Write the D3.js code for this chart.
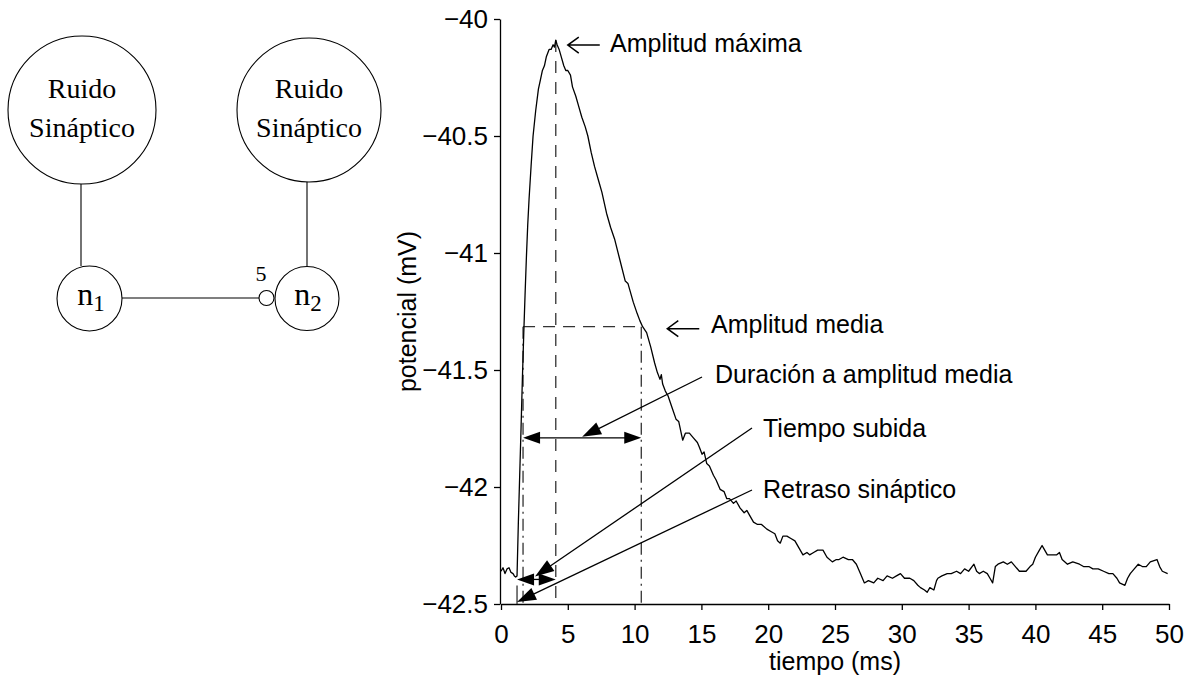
<!DOCTYPE html>
<html>
<head>
<meta charset="utf-8">
<script src="https://cdn.jsdelivr.net/npm/d3@7"></script>
<style>
  html, body { margin: 0; padding: 0; background: #fff; }
  svg { display: block; }
  .sans { font-family: "Liberation Sans", Arial, Helvetica, sans-serif; }
  .serif { font-family: "Liberation Serif", "Times New Roman", serif; }
</style>
</head>
<body>
<svg id="fig" width="1193" height="682"></svg>
<script>
// Membrane potential trace of n2 (time in ms, potential in mV)
const timeMs = [
  0, 0.15, 0.3, 0.45, 0.6, 0.75, 0.9, 1.0, 1.1, 1.2,
  1.3, 1.4, 1.5, 1.6, 1.7, 1.8, 1.9, 2.0, 2.1, 2.25, 2.4, 2.6, 2.8, 2.95, 3.1, 3.25, 3.4, 3.6, 3.75, 3.9, 4.0, 4.1,
  4.2, 4.35, 4.5, 4.7, 4.85, 5.0, 5.2, 5.35, 5.6, 5.8, 6.05, 6.3, 6.5, 6.75, 7.0, 7.3, 7.55, 7.9, 8.2, 8.5, 8.9,
  9.3, 9.5, 9.65, 9.9, 10.2, 10.4, 10.6, 10.9, 11.2, 11.5, 11.7, 11.9, 12.0, 12.1, 12.3, 12.5, 12.8, 13.1, 13.3,
  13.6, 13.8, 14.1, 14.4, 14.7, 14.85, 15.05, 15.2, 15.4, 15.6, 15.9, 16.1, 16.4, 16.7, 16.9, 17.1, 17.4, 17.6,
  17.9, 18.2, 18.4, 18.6, 18.9, 19.2, 19.5, 19.9, 20.2, 20.5, 20.7, 20.9, 21.1, 21.4, 21.7, 22.0, 22.3, 22.6,
  22.9, 23.1, 23.4, 23.7, 24.1, 24.4, 24.8, 25.1, 25.3, 25.6, 26.0, 26.3, 26.6, 26.9, 27.2, 27.5, 27.9, 28.2,
  28.6, 28.9, 29.3, 29.6, 29.9, 30.2, 30.6, 30.9, 31.2, 31.4, 31.7, 31.9, 32.1, 32.4, 32.6, 32.7, 33.0, 33.4,
  33.7, 34.1, 34.4, 34.7, 35.0, 35.4, 35.6, 35.8, 36.1, 36.4, 36.6, 36.8, 37.0, 37.2, 37.6, 37.9, 38.2, 38.5,
  38.8, 39.0, 39.3, 39.6, 39.8, 40.0, 40.3, 40.5, 40.6, 40.9, 41.2, 41.6, 41.8, 42.0, 42.4, 42.8, 43.3, 43.6,
  44.0, 44.3, 44.7, 45.1, 45.5, 45.8, 46.1, 46.3, 46.7, 46.9, 47.1, 47.4, 47.7, 48.0, 48.3, 48.6, 49.1, 49.3,
  49.5, 49.9
];
const potentialMv = [
  -42.36, -42.345, -42.37, -42.35, -42.345, -42.365, -42.37, -42.38, -42.385, -42.38,
  -42.15, -41.95, -41.75, -41.54, -41.35, -41.18, -41.02, -40.88, -40.77, -40.63, -40.5, -40.39, -40.3, -40.26, -40.22, -40.2, -40.16, -40.13, -40.13, -40.11, -40.12, -40.09,
  -40.11, -40.13, -40.16, -40.2, -40.22, -40.22, -40.24, -40.29, -40.33, -40.37, -40.42, -40.46, -40.5, -40.57, -40.63, -40.69, -40.74, -40.83, -40.89, -40.94, -41.03,
  -41.12, -41.13, -41.16, -41.21, -41.26, -41.29, -41.315, -41.34, -41.4, -41.47, -41.51, -41.54, -41.52, -41.56, -41.59, -41.61, -41.66, -41.71, -41.72,
  -41.8, -41.77, -41.77, -41.79, -41.81, -41.83, -41.86, -41.85, -41.9, -41.91, -41.95, -41.97, -42.01, -42.02, -42.05, -42.05, -42.07, -42.06,
  -42.09, -42.11, -42.1, -42.12, -42.15, -42.16, -42.16, -42.18, -42.19, -42.2, -42.23, -42.24, -42.21, -42.21, -42.22, -42.23, -42.26, -42.29,
  -42.28, -42.29, -42.28, -42.27, -42.27, -42.3, -42.32, -42.31, -42.31, -42.3, -42.31, -42.31, -42.33, -42.37, -42.41, -42.4, -42.41, -42.39,
  -42.4, -42.38, -42.39, -42.38, -42.37, -42.39, -42.39, -42.4, -42.42, -42.43, -42.44, -42.45, -42.43, -42.44, -42.4, -42.39, -42.38, -42.37,
  -42.37, -42.36, -42.37, -42.35, -42.36, -42.33, -42.36, -42.37, -42.36, -42.37, -42.39, -42.41, -42.34, -42.33, -42.32, -42.33, -42.32, -42.34,
  -42.36, -42.36, -42.36, -42.34, -42.33, -42.3, -42.27, -42.25, -42.26, -42.29, -42.29, -42.29, -42.28, -42.31, -42.33, -42.32, -42.33, -42.34,
  -42.34, -42.35, -42.35, -42.36, -42.37, -42.37, -42.39, -42.41, -42.42, -42.39, -42.37, -42.35, -42.33, -42.34, -42.34, -42.32, -42.31, -42.34,
  -42.36, -42.37
];

// Axis ticks
const xTicks = [0, 5, 10, 15, 20, 25, 30, 35, 40, 45, 50];
const yTicks = [-40, -40.5, -41, -41.5, -42, -42.5];
const yTickLabels = ["\u221240", "\u221240.5", "\u221241", "\u221241.5", "\u221242", "\u221242.5"];

// Measured features of the postsynaptic potential
const onsetMs = 1.2;          // synaptic delay ends
const halfRiseMs = 1.65;      // rising crossing of half amplitude
const peakMs = 4.1;           // time of maximum
const peakMv = -40.09;
const halfFallMs = 10.5;      // falling crossing of half amplitude
const halfLevelMv = -41.315;
const durationArrowMv = -41.79;
const riseArrowMv = -42.395;

const svg = d3.select("#fig");

const x = d3.scaleLinear().domain([0, 50]).range([501, 1169]);
const y = d3.scaleLinear().domain([-42.5, -40]).range([604, 19]);

// ---------- network diagram ----------
const diag = svg.append("g").attr("stroke", "#000").attr("fill", "none").attr("stroke-width", 1.1);
diag.append("circle").attr("cx", 82).attr("cy", 110).attr("r", 74);
diag.append("circle").attr("cx", 309).attr("cy", 110).attr("r", 72);
diag.append("line").attr("x1", 81).attr("y1", 184).attr("x2", 81).attr("y2", 266);
diag.append("line").attr("x1", 307).attr("y1", 182).attr("x2", 307).attr("y2", 266);
diag.append("circle").attr("cx", 89.5).attr("cy", 298.5).attr("r", 32.5);
diag.append("circle").attr("cx", 307).attr("cy", 298.5).attr("r", 32);
diag.append("line").attr("x1", 122).attr("y1", 298).attr("x2", 259).attr("y2", 298);
diag.append("circle").attr("cx", 266.5).attr("cy", 298).attr("r", 7.5);

const dtext = svg.append("g").attr("class", "serif").attr("fill", "#000").attr("text-anchor", "middle");
[[82], [309]].forEach(([cx]) => {
  dtext.append("text").attr("x", cx).attr("y", 98).attr("font-size", 28).text("Ruido");
  dtext.append("text").attr("x", cx).attr("y", 137).attr("font-size", 28).text("Sináptico");
});
function neuronLabel(cx, sub) {
  const t = dtext.append("text").attr("x", cx).attr("y", 305).attr("font-size", 32);
  t.append("tspan").text("n");
  t.append("tspan").attr("font-size", 23).attr("dy", 6).text(sub);
}
neuronLabel(91, "1");
neuronLabel(308, "2");
dtext.append("text").attr("x", 261).attr("y", 281).attr("font-size", 22).text("5");

// ---------- chart ----------
const chart = svg.append("g").attr("class", "sans");

// axes
const yAxis = d3.axisLeft(y).tickValues(yTicks).tickSize(6).tickSizeOuter(0).tickPadding(6)
  .tickFormat((d, i) => yTickLabels[i]);
const xAxis = d3.axisBottom(x).tickValues(xTicks).tickSize(6).tickSizeOuter(0).tickPadding(6)
  .tickFormat(d3.format("d"));

const gy = chart.append("g").attr("transform", `translate(${x(0) - 1},0)`).call(yAxis);
const gx = chart.append("g").attr("transform", `translate(0,${y(-42.5)})`).call(xAxis);
[gx, gy].forEach(g => {
  g.selectAll("path, line").attr("stroke", "#000").attr("stroke-width", 1.3);
  g.selectAll("text").attr("font-size", 26).attr("fill", "#000")
    .attr("font-family", "'Liberation Sans', Arial, Helvetica, sans-serif");
});
gx.selectAll("text").attr("dy", "1.05em");

chart.append("text").attr("x", (x(0) + x(50)) / 2).attr("y", 670).attr("text-anchor", "middle")
  .attr("font-size", 25).text("tiempo (ms)");
chart.append("text").attr("transform", `translate(416,${(y(-40) + y(-42.5)) / 2}) rotate(-90)`)
  .attr("text-anchor", "middle").attr("font-size", 25).text("potencial (mV)");

// guide lines
const guides = chart.append("g").attr("fill", "none").attr("stroke", "#333").attr("stroke-width", 1.3);
guides.append("line").attr("x1", x(peakMs)).attr("x2", x(peakMs))
  .attr("y1", y(peakMv)).attr("y2", y(-42.5)).attr("stroke-dasharray", "12,9");
guides.append("line").attr("x1", x(halfRiseMs)).attr("x2", x(halfFallMs))
  .attr("y1", y(halfLevelMv)).attr("y2", y(halfLevelMv)).attr("stroke-dasharray", "12,8");
[halfRiseMs, halfFallMs].forEach(t => {
  guides.append("line").attr("x1", x(t)).attr("x2", x(t))
    .attr("y1", y(halfLevelMv)).attr("y2", y(-42.5)).attr("stroke-dasharray", "12,5,2,5");
});
guides.append("line").attr("x1", x(onsetMs)).attr("x2", x(onsetMs))
  .attr("y1", y(riseArrowMv) + 6).attr("y2", y(-42.5));

// potential trace
const trace = timeMs.map((t, i) => [t, potentialMv[i]]);
chart.append("path").datum(trace)
  .attr("fill", "none").attr("stroke", "#000").attr("stroke-width", 1.3).attr("stroke-linejoin", "round")
  .attr("d", d3.line().x(d => x(d[0])).y(d => y(d[1])));

// arrows
const arrows = chart.append("g");
function head(tx, ty, fx, fy, len = 17, half = 6) {
  const a = Math.atan2(ty - fy, tx - fx);
  const bx = tx - len * Math.cos(a), by = ty - len * Math.sin(a);
  const px = -Math.sin(a) * half, py = Math.cos(a) * half;
  arrows.append("path").attr("fill", "#000")
    .attr("d", `M${tx},${ty}L${bx + px},${by + py}L${bx - px},${by - py}Z`);
}
function line(x1, y1, x2, y2) {
  arrows.append("line").attr("x1", x1).attr("y1", y1).attr("x2", x2).attr("y2", y2)
    .attr("stroke", "#000").attr("stroke-width", 1.3);
}
function doubleArrow(t1, t2, v) {
  const xa = x(t1), xb = x(t2), yy = y(v);
  line(xa + 5, yy, xb - 5, yy);
  head(xa, yy, xb, yy);
  head(xb, yy, xa, yy);
}
function pointer(fx, fy, tx, ty) {
  line(fx, fy, tx + (fx - tx) * 0.05, ty + (fy - ty) * 0.05);
  head(tx, ty, fx, fy, 19, 6.5);
}
function openArrow(tx, ty, len) {
  arrows.append("path").attr("fill", "none").attr("stroke", "#000").attr("stroke-width", 1.5)
    .attr("d", `M${tx + len},${ty}H${tx}M${tx + 11},${ty - 8}L${tx},${ty}L${tx + 11},${ty + 8}`);
}

doubleArrow(halfRiseMs, halfFallMs, durationArrowMv);
doubleArrow(onsetMs, peakMs, riseArrowMv);

pointer(702, 377, (x(halfRiseMs) + x(halfFallMs)) / 2, y(durationArrowMv) - 1);
pointer(752, 428, x(onsetMs) + 18, y(riseArrowMv) - 3);
pointer(752, 490, x(onsetMs), y(-42.5) - 2);

openArrow(x(peakMs) + 12, y(peakMv) + 5, 32);
openArrow(x(halfFallMs) + 26, y(halfLevelMv) + 2, 32);

// annotation labels
const labels = chart.append("g").attr("font-size", 25).attr("fill", "#000");
labels.append("text").attr("x", 610).attr("y", 52).text("Amplitud máxima");
labels.append("text").attr("x", 711).attr("y", 333).text("Amplitud media");
labels.append("text").attr("x", 715).attr("y", 383).text("Duración a amplitud media");
labels.append("text").attr("x", 763).attr("y", 437).text("Tiempo subida");
labels.append("text").attr("x", 763).attr("y", 498).text("Retraso sináptico");
</script>
</body>
</html>
